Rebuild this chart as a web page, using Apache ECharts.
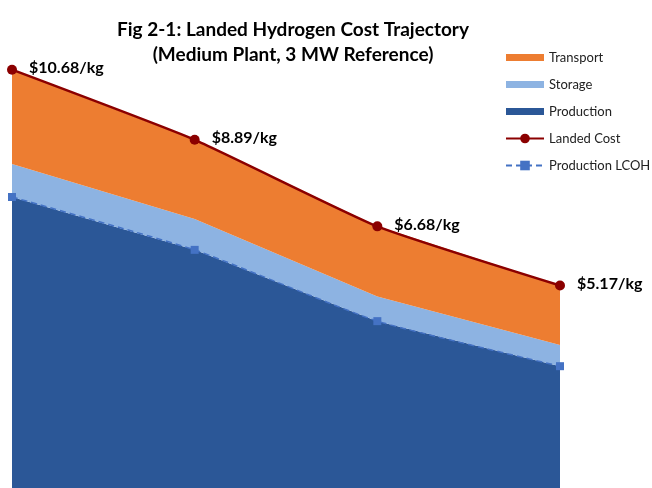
<!DOCTYPE html>
<html>
<head>
<meta charset="utf-8">
<script src="https://cdn.jsdelivr.net/npm/echarts@6/dist/echarts.min.js"></script>
<style>
  html, body { margin: 0; padding: 0; background: #ffffff; }
  #chart { width: 652px; height: 488px; }
</style>
</head>
<body>
<div id="chart"></div>
<script>
// Cost trajectory by plant stage ($/kg H2)
const stages = ['Stage 1', 'Stage 2', 'Stage 3', 'Stage 4'];
const production = [7.43, 6.08, 4.26, 3.11];
const storage = [0.84, 0.79, 0.63, 0.54];
const transport = [2.41, 2.02, 1.79, 1.52];
const landedCost = [10.68, 8.89, 6.68, 5.17];
const productionLcoh = [7.43, 6.08, 4.26, 3.11];

const FONT = 'Lato';
// flat bar used as the legend swatch for the area series
const BAR_ICON = 'path://M0,0h38v7H0z';

const chart = echarts.init(document.getElementById('chart'));

chart.setOption({
  animation: false,
  backgroundColor: '#ffffff',
  title: {
    text: 'Fig 2-1: Landed Hydrogen Cost Trajectory\n(Medium Plant, 3 MW Reference)',
    left: 288,
    top: 12,
    textAlign: 'center',
    textStyle: {
      fontFamily: FONT,
      fontWeight: 'bold',
      fontSize: 19,
      lineHeight: 25,
      color: '#000000'
    }
  },
  legend: {
    orient: 'vertical',
    left: 505,
    top: 51,
    padding: 0,
    itemWidth: 38,
    itemHeight: 12,
    itemGap: 14,
    symbolKeepAspect: true,
    textStyle: { fontFamily: FONT, fontSize: 13, color: '#222222' },
    data: [
      { name: 'Transport', icon: BAR_ICON },
      { name: 'Storage', icon: BAR_ICON },
      { name: 'Production', icon: BAR_ICON },
      { name: 'Landed Cost' },
      { name: 'Production LCOH' }
    ]
  },
  grid: { left: 12, right: 92, top: 18, height: 473, containLabel: false },
  xAxis: {
    type: 'category',
    data: stages,
    boundaryGap: false,
    show: false
  },
  yAxis: {
    type: 'value',
    min: 0,
    max: 12,
    show: false,
    splitLine: { show: false }
  },
  series: [
    {
      name: 'Production',
      type: 'line',
      stack: 'cost',
      data: production,
      symbol: 'none',
      lineStyle: { width: 0 },
      areaStyle: { color: '#2B5797', opacity: 1 },
      itemStyle: { color: '#2B5797' },
      z: 1
    },
    {
      name: 'Storage',
      type: 'line',
      stack: 'cost',
      data: storage,
      symbol: 'none',
      lineStyle: { width: 0 },
      areaStyle: { color: '#8DB3E2', opacity: 1 },
      itemStyle: { color: '#8DB3E2' },
      z: 1
    },
    {
      name: 'Transport',
      type: 'line',
      stack: 'cost',
      data: transport,
      symbol: 'none',
      lineStyle: { width: 0 },
      areaStyle: { color: '#ED7D31', opacity: 1 },
      itemStyle: { color: '#ED7D31' },
      z: 1
    },
    {
      name: 'Landed Cost',
      type: 'line',
      data: landedCost,
      smooth: 0.15,
      symbol: 'circle',
      symbolSize: 10,
      lineStyle: { color: '#8B0000', width: 2.5 },
      itemStyle: { color: '#8B0000' },
      label: {
        show: true,
        position: 'right',
        distance: 12,
        offset: [0, -2],
        fontFamily: FONT,
        fontWeight: 'bold',
        fontSize: 16,
        color: '#000000',
        formatter: p => '$' + p.value.toFixed(2) + '/kg'
      },
      z: 5
    },
    {
      name: 'Production LCOH',
      type: 'line',
      data: productionLcoh,
      smooth: 0.15,
      symbol: 'rect',
      symbolSize: 8,
      lineStyle: { color: '#4472C4', width: 1.5, type: [6, 4] },
      itemStyle: { color: '#4472C4' },
      z: 4
    }
  ]
});
</script>
</body>
</html>
